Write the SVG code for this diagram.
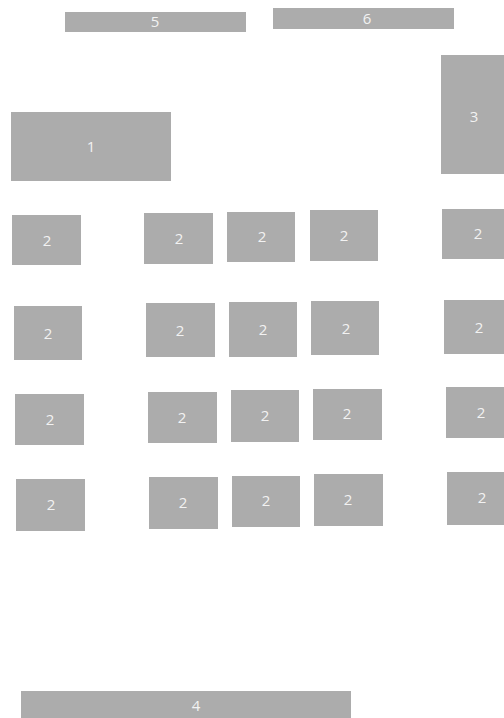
<svg xmlns="http://www.w3.org/2000/svg" width="504" height="718" viewBox="0 0 504 718">
<style>
.b{fill:#acacac}
.t{fill:#f2f2f2;font-family:"Open Sans","Noto Sans",sans-serif;font-size:15px;text-anchor:middle}
</style>
<rect width="504" height="718" fill="#ffffff"/>
<g id="n5"><rect class="b" x="65" y="12" width="181" height="20"/><text class="t" x="155" y="27">5</text></g>
<g id="n6"><rect class="b" x="273" y="8" width="181" height="21"/><text class="t" x="367" y="24">6</text></g>
<g id="n1"><rect class="b" x="11" y="112" width="160" height="69"/><text class="t" x="91" y="152">1</text></g>
<g id="n3"><rect class="b" x="441" y="55" width="63" height="119"/><text class="t" x="474" y="122">3</text></g>

<g id="r1a"><rect class="b" x="12" y="215" width="69" height="50"/><text class="t" x="47" y="246">2</text></g>
<g id="r1b"><rect class="b" x="144" y="213" width="69" height="51"/><text class="t" x="179" y="244">2</text></g>
<g id="r1c"><rect class="b" x="227" y="212" width="68" height="50"/><text class="t" x="262" y="242">2</text></g>
<g id="r1d"><rect class="b" x="310" y="210" width="68" height="51"/><text class="t" x="344" y="241">2</text></g>
<g id="r1e"><rect class="b" x="442" y="209" width="62" height="50"/><text class="t" x="478" y="239">2</text></g>

<g id="r2a"><rect class="b" x="14" y="306" width="68" height="54"/><text class="t" x="48" y="339">2</text></g>
<g id="r2b"><rect class="b" x="146" y="303" width="69" height="54"/><text class="t" x="180" y="336">2</text></g>
<g id="r2c"><rect class="b" x="229" y="302" width="68" height="55"/><text class="t" x="263" y="335">2</text></g>
<g id="r2d"><rect class="b" x="311" y="301" width="68" height="54"/><text class="t" x="346" y="334">2</text></g>
<g id="r2e"><rect class="b" x="444" y="300" width="60" height="54"/><text class="t" x="479" y="333">2</text></g>

<g id="r3a"><rect class="b" x="15" y="394" width="69" height="51"/><text class="t" x="50" y="425">2</text></g>
<g id="r3b"><rect class="b" x="148" y="392" width="69" height="51"/><text class="t" x="182" y="423">2</text></g>
<g id="r3c"><rect class="b" x="231" y="390" width="68" height="52"/><text class="t" x="265" y="421">2</text></g>
<g id="r3d"><rect class="b" x="313" y="389" width="69" height="51"/><text class="t" x="347" y="419">2</text></g>
<g id="r3e"><rect class="b" x="446" y="387" width="58" height="51"/><text class="t" x="481" y="418">2</text></g>

<g id="r4a"><rect class="b" x="16" y="479" width="69" height="52"/><text class="t" x="51" y="510">2</text></g>
<g id="r4b"><rect class="b" x="149" y="477" width="69" height="52"/><text class="t" x="183" y="508">2</text></g>
<g id="r4c"><rect class="b" x="232" y="476" width="68" height="51"/><text class="t" x="266" y="506">2</text></g>
<g id="r4d"><rect class="b" x="314" y="474" width="69" height="52"/><text class="t" x="348" y="505">2</text></g>
<g id="r4e"><rect class="b" x="447" y="472" width="57" height="53"/><text class="t" x="482" y="503">2</text></g>

<g id="n4"><rect class="b" x="21" y="691" width="330" height="27"/><text class="t" x="196" y="711">4</text></g>
<g id="connectors"/>
</svg>
